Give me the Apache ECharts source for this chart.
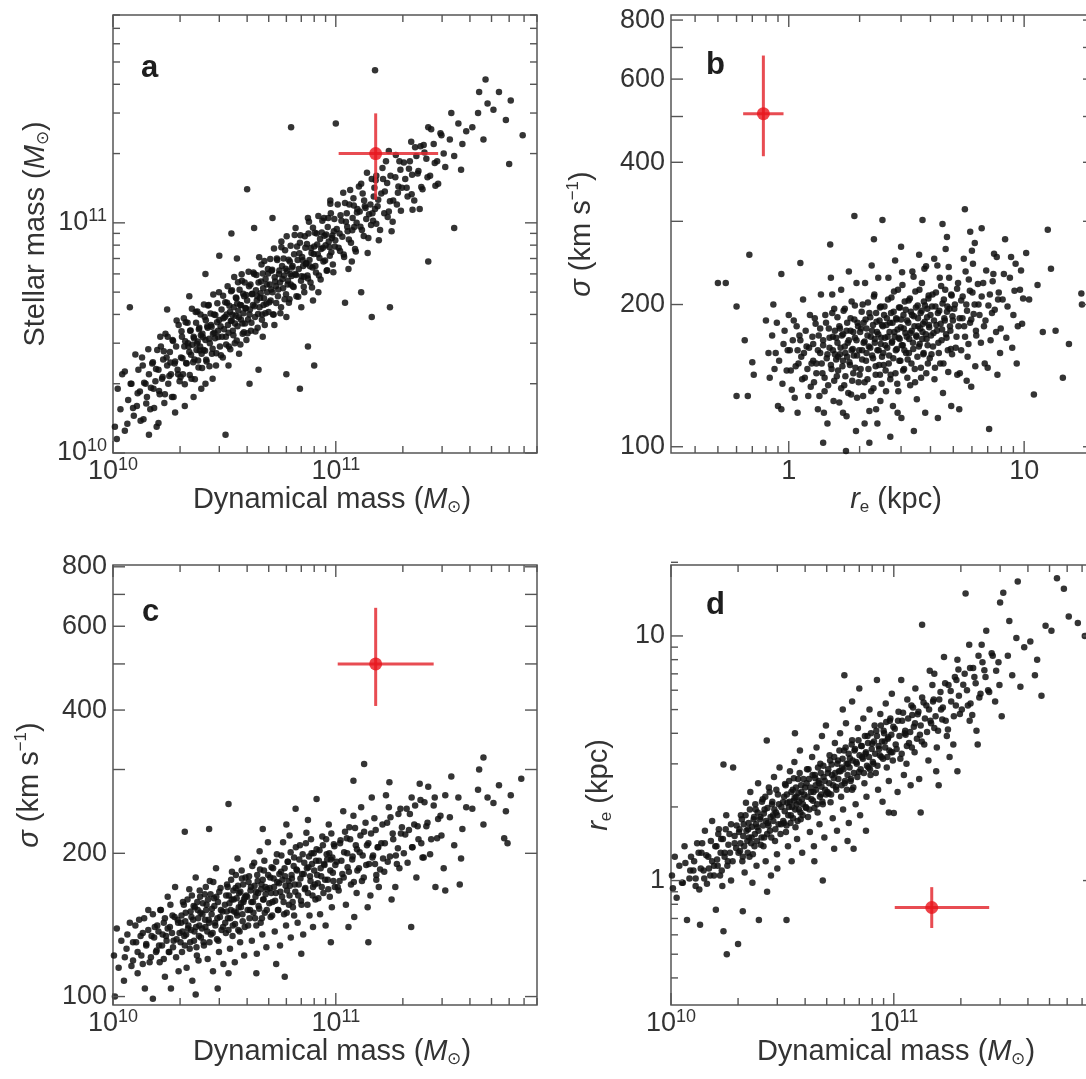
<!DOCTYPE html>
<html><head><meta charset="utf-8">
<script src="https://cdn.jsdelivr.net/npm/echarts@6/dist/echarts.min.js"></script>
<style>html,body{margin:0;padding:0;background:#fff}#c{width:1086px;height:1079px}</style>
</head><body><div id="c"></div>
<script>
// ---------------- DATA ----------------
// Masses in units of 10^10 solar masses, r_e in kpc, sigma in km/s
// Panel a: [dynamical mass, stellar mass]
const ptsA = [[1.02,1.3],[1.04,1.15],[1.05,1.9],[1.08,1.55],[1.1,2.2],[1.13,1.25],[1.17,1.7],[1.2,2.0],[1.24,1.45],
[1.28,1.6],[1.3,2.3],[1.32,1.85],[1.35,2.6],[1.37,1.4],[1.4,2.0],[1.42,1.75],[1.45,2.2],[1.47,1.55],[1.5,2.45],[1.52,1.9],[1.55,2.05],[1.57,1.3],[1.45,1.2],
[1.6,2.3],[1.62,1.8],[1.64,2.9],[1.66,2.1],[1.68,2.55],[1.7,1.65],[1.72,3.3],[1.75,2.4],[1.77,2.0],[1.8,2.75],[1.82,2.2],[1.85,3.1],[1.87,1.75],[1.9,2.5],[1.92,2.9],[1.95,2.3],[1.97,3.6],[1.99,2.05],[1.6,1.35],[1.9,1.5],[1.75,4.2],
[2.02,2.6],[2.04,3.2],[2.06,2.2],[2.09,2.9],[2.12,3.7],[2.14,2.45],[2.17,3.0],[2.2,2.75],[2.22,3.4],[2.25,2.1],[2.27,2.95],[2.3,3.2],[2.32,2.55],[2.35,4.1],[2.37,2.8],[2.4,3.05],[2.42,2.35],[2.44,3.5],[2.46,2.9],[2.48,3.25],[2.49,1.9],[2.5,2.7],[2.1,1.6],[2.3,1.75],[2.2,4.8],
[2.52,3.3],[2.55,2.8],[2.58,3.9],[2.6,3.1],[2.63,2.5],[2.66,3.5],[2.69,4.4],[2.72,3.0],[2.75,3.6],[2.78,2.7],[2.81,3.3],[2.84,4.0],[2.87,3.15],[2.9,2.4],[2.93,3.7],[2.96,3.4],[2.99,5.0],[3.02,2.9],[3.04,3.55],[3.07,4.2],[3.09,3.2],[3.11,2.6],[3.13,3.85],[3.15,3.45],[2.6,2.0],[2.8,2.1],[2.6,6.0],[3.0,7.2],
[3.18,3.9],[3.21,3.2],[3.25,4.5],[3.28,3.6],[3.31,2.9],[3.35,4.1],[3.38,3.75],[3.42,5.1],[3.45,3.4],[3.48,4.3],[3.52,3.0],[3.55,3.95],[3.58,4.7],[3.62,3.55],[3.65,4.15],[3.68,2.7],[3.72,4.4],[3.75,3.8],[3.79,5.6],[3.82,3.3],[3.85,4.05],[3.88,4.8],[3.91,3.65],[3.94,4.25],[3.97,3.1],[3.3,2.4],[3.4,9.0],[3.6,7.0],
[4.0,4.6],[4.04,3.8],[4.08,5.3],[4.12,4.2],[4.16,3.4],[4.2,4.9],[4.25,4.4],[4.3,6.0],[4.34,3.9],[4.38,5.1],[4.42,4.6],[4.46,3.5],[4.5,5.5],[4.55,4.3],[4.6,4.95],[4.64,6.6],[4.68,4.0],[4.72,5.2],[4.76,4.7],[4.8,3.6],[4.84,5.7],[4.88,4.45],[4.92,5.0],[4.96,6.3],[4.99,4.1],[4.7,3.2],[4.1,2.0],[4.5,2.3],[4.3,9.5],
[5.05,5.4],[5.1,4.6],[5.15,6.2],[5.2,5.0],[5.26,4.0],[5.32,5.8],[5.38,5.3],[5.44,7.0],[5.5,4.8],[5.56,6.0],[5.62,5.5],[5.68,4.3],[5.74,6.5],[5.8,5.2],[5.86,5.9],[5.92,7.6],[5.98,4.9],[6.04,6.2],[6.1,5.6],[6.16,4.5],[6.22,6.8],[6.28,5.4],[5.3,3.6],[5.7,8.3],[6.0,3.9],[6.25,6.0],[6.0,2.2],[5.2,10.5],
[6.35,6.4],[6.42,5.3],[6.5,7.3],[6.58,6.0],[6.66,4.8],[6.74,6.9],[6.82,6.3],[6.9,8.2],[6.98,5.6],[7.06,7.1],[7.14,6.5],[7.22,5.0],[7.3,7.8],[7.38,6.7],[7.46,5.9],[7.54,9.0],[7.62,6.9],[7.7,5.5],[7.78,7.4],[7.86,6.4],[6.6,9.5],[7.0,4.3],[7.5,10.5],[7.9,4.6],[6.9,1.9],[7.5,2.9],
[8.0,7.9],[8.1,6.5],[8.2,9.0],[8.3,7.3],[8.4,5.9],[8.5,8.5],[8.6,7.7],[8.7,10.2],[8.8,6.8],[8.9,8.8],[9.0,8.0],[9.1,6.2],[9.2,9.6],[9.3,8.3],[9.4,7.2],[9.5,11.0],[9.6,8.6],[9.7,6.6],[9.8,9.2],[9.9,7.9],[8.35,5.0],[9.45,12.5],[8.0,2.4],
[10.1,9.4],[10.3,7.8],[10.5,10.8],[10.7,8.7],[10.9,7.1],[11.1,10.1],[11.3,9.2],[11.5,12.0],[11.7,8.2],[11.9,10.5],[12.1,9.6],[12.3,7.5],[12.5,11.5],[10.8,13.5],[11.4,6.3],[12.0,12.8],[10.4,9.0],[11.2,11.0],[12.4,10.0],[11.8,6.8],[11,4.5],
[12.8,11.2],[13.1,9.3],[13.4,12.5],[13.7,10.4],[14.0,8.6],[14.3,12.0],[14.6,11.0],[14.9,14.2],[15.2,9.9],[15.5,12.6],[13.0,14.8],[13.9,7.4],[14.5,15.5],[15.0,11.5],[15.6,8.4],[13.5,11.8],[14.8,13.0],[14.5,3.9],[13,5.0],
[16.0,13.4],[16.5,11.0],[17.0,14.9],[17.5,12.4],[18.0,10.1],[18.5,15.8],[19.0,13.5],[19.5,17.0],[16.8,18.5],[17.8,9.2],[18.8,12.0],[19.8,14.2],[16.3,15.5],[17.3,20.5],[17.5,4.3],
[20.5,15.5],[21,13.0],[21.5,18.5],[22,16.2],[22.5,12.5],[23,19.5],[23.5,16.8],[24,21.5],[24.5,14.0],[21.8,22.5],[23.8,11.5],
[25.5,19.0],[26.5,16.0],[27.5,22.0],[28.5,18.5],[29.5,24.5],[30.5,20.0],[26,26],[28,14.5],[31,17.5],
[32.5,23],[34,19.5],[35.5,27],[37,22],[38.5,25],[33,30],[36.5,17],
[41,26],[43.5,30],[46,23],[48,33],[44,37],[51,31],[54,37],[58,28],[61,34],[69,24],[60,18],[47,42],
[15,46],[6.3,26],[10,27],[4.0,14],[3.2,1.2],[1.19,4.3],[34,9.5],[26,6.8],
[1.13,2.26],[1.16,1.34],[1.21,2.0],[1.23,1.57],[1.26,2.68],[1.29,1.82],[1.33,1.38],[1.36,2.4],[1.38,2.02],[1.41,1.64],[1.44,2.82],[1.48,1.92],[1.51,2.48],[1.53,1.57],[1.56,2.32],[1.58,2.8],[1.61,1.86],[1.63,3.2],[1.67,2.14],[1.69,2.77],[1.71,1.8],[1.74,2.6],[1.76,3.2],[1.79,2.16],[1.81,2.47],[1.84,1.75],[1.86,3.07],[1.89,2.45],[1.93,3.76],[1.96,2.2],
[2.01,2.14],[2.03,3.38],[2.05,2.58],[2.08,3.85],[2.1,1.99],[2.11,3.06],[2.13,2.46],[2.16,3.68],[2.18,2.9],[2.21,2.18],[2.23,3.41],[2.24,2.67],[2.26,4.23],[2.29,2.48],[2.31,3.15],[2.33,2.09],[2.36,3.68],[2.38,2.98],[2.39,4.12],[2.41,2.52],[2.43,3.45],[2.45,2.79],[2.47,4.0],[2.51,2.34],[2.53,3.18],[2.56,4.42],[2.59,2.78],[2.61,3.77],[2.62,2.54],[2.65,3.55],[2.67,4.37],[2.7,3.14],[2.71,2.38],[2.74,4.04],[2.77,3.54],[2.8,2.84],[2.82,4.88],[2.85,3.33],[2.88,3.98],[2.91,2.71],[2.94,4.47],[2.97,3.19],[3.0,3.78],[3.05,2.66],[3.12,4.82],
[3.19,4.52],[3.22,2.96],[3.24,4.0],[3.27,5.3],[3.3,3.33],[3.33,4.36],[3.36,2.82],[3.39,5.04],[3.41,3.76],[3.44,3.99],[3.47,3.25],[3.5,5.82],[3.53,3.65],[3.56,4.74],[3.59,3.08],[3.61,4.46],[3.64,5.52],[3.67,3.89],[3.7,5.12],[3.73,2.96],[3.76,4.38],[3.78,5.98],[3.81,3.65],[3.84,4.92],[3.87,3.35],[3.9,5.51],[3.93,4.27],[3.96,4.86],[4.02,3.31],[4.06,6.13],[4.1,4.0],[4.14,5.39],[4.18,3.68],[4.22,4.92],[4.27,6.08],[4.32,4.34],[4.36,3.37],[4.4,5.93],[4.44,4.81],[4.48,4.02],[4.53,7.09],[4.57,4.72],[4.62,5.56],[4.66,3.79],[4.7,6.02],[4.74,4.4],[4.78,6.82],[4.83,4.05],[4.9,5.39],[4.97,6.03],
[5.03,4.52],[5.08,6.97],[5.13,5.13],[5.18,6.26],[5.23,4.0],[5.28,7.73],[5.34,5.56],[5.4,4.49],[5.46,6.9],[5.52,5.13],[5.58,6.21],[5.64,4.05],[5.7,7.83],[5.76,5.7],[5.83,7.0],[5.89,4.66],[5.95,6.32],[6.02,8.75],[6.08,5.39],[6.14,6.91],[6.2,4.66],[6.27,7.95],[6.33,5.87],[6.4,6.49],[6.47,5.26],[6.54,8.85],[6.62,5.93],[6.7,7.9],[6.78,4.78],[6.86,7.37],[6.94,8.84],[7.02,5.86],[7.1,6.87],[7.18,5.27],[7.26,8.74],[7.34,6.62],[7.42,8.09],[7.5,5.73],[7.58,10.1],[7.66,6.47],[7.74,7.77],[7.82,5.24],[7.9,9.52],[7.96,7.33],[7.2,5.83],
[8.05,9.05],[8.15,6.09],[8.25,8.06],[8.35,10.7],[8.45,7.04],[8.55,5.68],[8.65,9.07],[8.75,7.79],[8.85,10.5],[8.95,6.86],[9.05,8.9],[9.15,6.23],[9.25,10.5],[9.35,7.85],[9.45,12.1],[9.55,7.46],[9.65,8.81],[9.75,6.1],[9.85,10.4],[9.95,8.41],[10.2,12.0],[10.45,7.54],[10.6,10.2],[10.85,7.28],[11.0,12.2],[11.25,9.62],[11.45,8.47],[11.6,13.9],[11.85,9.29],[12.05,11.9],[12.2,7.7],[12.45,11.1],[12.7,14.4],[12.9,9.61],[13.2,13.4],[13.35,8.77],[13.6,11.6],[13.8,16.5],[14.1,10.9],[14.4,9.79],
[14.7,10.2],[15.1,15.3],[15.4,11.8],[15.8,9.3],[16.2,17.3],[16.6,13.7],[17.1,10.6],[17.6,16.0],[18.1,12.5],[18.6,19.7],[19.1,14.4],[19.6,11.3],[20.2,18.3],[20.8,14.2],[21.3,17.2],[22.1,11.4],[22.7,21.3],[23.3,16.4],[24.2,14.3],[25.0,20.2],[25.8,15.8],[26.8,25.5],[27.8,18.2],[28.8,14.8],[29.8,24.0],[15.2,16.0],[17.3,11.2],[19.3,18.5],[21.9,13.3],[24.8,21.8]];

// Panel b: [r_e (kpc), sigma (km/s)]
const ptsB = [[0.5,222],[0.54,222],[0.6,128],[0.6,198],
[0.65,168],[0.68,255],[0.7,151],[0.67,128],[0.71,142],
[0.8,185],[0.83,140],[0.86,200],[0.88,158],[0.9,122],[0.93,232],[0.95,165],[0.98,145],
[1.01,160],[1.03,132],[1.05,185],[1.07,148],[1.09,118],[1.11,172],[1.13,155],[1.15,205],[1.17,140],[1.19,163],[1.21,128],[1.23,190],[1.25,150],[1.12,245],
[1.27,165],[1.28,137],[1.3,182],[1.31,150],[1.33,120],[1.34,172],[1.36,158],[1.37,210],[1.39,143],[1.4,168],[1.42,131],[1.43,190],[1.45,154],[1.46,112],[1.48,178],[1.49,162],[1.51,228],[1.52,146],[1.54,171],[1.55,125],[1.56,196],[1.57,157],[1.4,102],[1.5,268],
[1.59,170],[1.6,141],[1.61,188],[1.62,155],[1.64,124],[1.65,178],[1.66,162],[1.67,215],[1.69,148],[1.7,173],[1.72,135],[1.73,196],[1.74,158],[1.76,116],[1.77,183],[1.78,166],[1.8,235],[1.81,151],[1.83,176],[1.84,129],[1.85,203],[1.87,161],[1.88,143],[1.9,186],[1.91,170],[1.93,108],[1.94,222],[1.95,156],[1.97,180],[1.98,137],[1.9,308],[1.75,98],
[2.01,175],[2.02,146],[2.04,193],[2.05,160],[2.07,128],[2.08,183],[2.1,167],[2.11,222],[2.13,152],[2.14,178],[2.16,139],[2.17,202],[2.19,163],[2.2,119],[2.22,188],[2.23,171],[2.25,242],[2.26,156],[2.28,181],[2.29,133],[2.31,210],[2.32,166],[2.34,148],[2.35,192],[2.37,175],[2.38,112],[2.4,228],[2.41,160],[2.43,185],[2.44,142],[2.46,198],[2.47,170],[2.49,155],[2.2,102],[2.3,275],[2.45,125],
[2.51,180],[2.53,149],[2.55,198],[2.57,164],[2.59,131],[2.61,187],[2.63,171],[2.65,228],[2.67,156],[2.69,183],[2.71,142],[2.73,207],[2.75,167],[2.77,122],[2.79,193],[2.81,175],[2.83,248],[2.85,160],[2.87,186],[2.89,136],[2.91,215],[2.93,170],[2.95,152],[2.97,197],[2.99,179],[3.01,115],[3.03,234],[3.05,164],[3.07,190],[3.09,146],[3.11,203],[3.13,174],[3.15,158],[2.5,302],[2.7,105],[3.0,265],
[3.18,185],[3.2,153],[3.23,204],[3.25,169],[3.28,135],[3.3,193],[3.33,176],[3.35,235],[3.38,161],[3.4,189],[3.43,146],[3.45,213],[3.48,172],[3.5,126],[3.53,199],[3.55,180],[3.58,255],[3.6,165],[3.63,192],[3.65,140],[3.68,222],[3.7,175],[3.73,157],[3.75,203],[3.78,184],[3.8,118],[3.83,241],[3.85,169],[3.88,196],[3.9,150],[3.93,209],[3.95,179],[3.7,302],[3.4,108],
[4.0,190],[4.04,157],[4.08,210],[4.12,174],[4.16,139],[4.2,198],[4.24,181],[4.28,242],[4.32,166],[4.36,194],[4.4,150],[4.44,219],[4.48,177],[4.52,130],[4.56,205],[4.6,185],[4.64,262],[4.68,170],[4.72,198],[4.76,144],[4.8,228],[4.84,180],[4.88,161],[4.92,209],[4.96,189],[4.5,296],[4.3,115],[4.7,278],[4.9,122],[4.15,250],
[5.05,196],[5.12,162],[5.19,216],[5.26,180],[5.33,143],[5.4,204],[5.47,187],[5.54,250],[5.61,171],[5.68,200],[5.75,155],[5.82,226],[5.89,183],[5.96,134],[6.03,212],[6.1,191],[6.17,270],[6.24,176],[5.6,318],[5.3,120],[5.9,285],[6.2,148],
[6.4,200],[6.55,166],[6.7,222],[6.85,185],[7.0,147],[7.15,210],[7.3,192],[7.45,256],[7.6,175],[7.75,205],[7.1,109],[6.6,290],[7.9,158],[7.4,232],
[8.1,205],[8.4,170],[8.7,228],[9.0,190],[9.3,150],[9.6,215],[8.3,275],[9.2,244],[9.8,182],
[10.2,257],[10.5,205],[11.0,129],[11.4,220],[12.0,175],[12.6,288],
[13.6,176],[14.6,140],[15.5,165],[17.5,211],[17.6,200],[13.0,238],
[1.1,150],[1.12,168],[1.14,139],[1.16,158],[1.18,176],[1.2,146],[1.22,162],[1.24,134],[1.26,171],[1.27,152],[1.29,187],[1.31,143],[1.33,160],[1.35,128],[1.36,178],[1.38,150],[1.4,164],[1.42,140],[1.44,183],[1.46,157],[1.47,135],[1.49,170],[1.51,149],[1.53,192],[1.54,160],[1.56,138],[1.57,176],[1.59,153],[1.41,118],[1.53,210],
[1.61,166],[1.62,145],[1.64,180],[1.65,157],[1.67,133],[1.68,172],[1.7,152],[1.71,194],[1.73,163],[1.74,141],[1.76,176],[1.77,155],[1.79,130],[1.8,168],[1.82,149],[1.83,187],[1.85,160],[1.86,138],[1.88,175],[1.89,156],[1.91,199],[1.92,147],[1.94,168],[1.95,127],[1.96,183],[1.99,160],[2.0,142],[2.03,178],[2.05,153],[2.06,200],[2.08,166],[2.1,137],[2.12,186],[2.14,158],[2.16,172],[2.18,146],[2.2,192],[2.22,162],[2.24,131],[2.26,176],[2.28,154],[2.3,208],[2.32,169],[2.34,142],[2.36,184],[2.38,160],[2.4,173],[2.42,149],[2.44,197],[2.46,165],[2.48,136],[2.49,181],[1.7,118],[2.1,112],[2.35,120],
[2.52,158],[2.54,190],[2.56,170],[2.58,145],[2.6,181],[2.62,162],[2.64,205],[2.66,150],[2.68,175],[2.7,139],[2.72,192],[2.74,166],[2.76,183],[2.78,154],[2.8,213],[2.82,171],[2.84,143],[2.86,187],[2.88,161],[2.9,177],[2.92,131],[2.94,197],[2.96,169],[2.98,152],[3.0,186],[3.02,164],[3.04,220],[3.06,145],[3.08,178],[3.1,160],[3.14,195],[3.17,171],[3.19,140],[3.22,183],[3.24,158],[3.27,206],[3.29,174],[3.32,150],[3.34,190],[3.37,166],[3.39,229],[3.42,180],[3.44,137],[3.47,197],[3.49,171],[3.52,155],[3.54,187],[3.57,163],[3.59,215],[3.62,178],[3.64,147],[3.67,194],[3.69,169],[3.72,182],[3.74,158],[3.77,238],[3.79,199],[3.82,173],[3.84,143],[3.87,188],[3.89,164],[3.92,206],[3.94,181],[3.97,154],[2.9,118],
[4.02,172],[4.06,198],[4.1,163],[4.14,185],[4.18,147],[4.22,212],[4.26,176],[4.3,192],[4.34,158],[4.38,228],[4.42,182],[4.46,168],[4.5,201],[4.54,150],[4.58,187],[4.62,215],[4.66,173],[4.7,193],[4.74,160],[4.78,240],[4.82,196],[4.86,176],[4.9,210],[4.94,157],[4.98,185],[5.08,200],[5.16,171],[5.24,222],[5.32,187],[5.4,160],[5.48,208],[5.56,180],[5.64,235],[5.72,194],[5.8,165],[5.88,214],[5.96,186],[6.06,244],[6.16,200],[6.26,172],[6.36,221],[6.46,190],[5.2,142],[5.7,138],[6.0,260],
[6.6,208],[6.75,180],[6.9,236],[7.05,199],[7.2,168],[7.35,224],[7.5,195],[7.65,252],[7.8,212],[7.95,178],[8.2,232],[8.5,198],[8.8,252],[9.1,214],[9.4,180],[9.7,236],[6.8,150],[7.7,142],[8.9,162],[9.9,206],
[0.82,158],[0.85,172],[0.87,146],[0.89,183],[0.91,152],[0.94,136],[0.96,176],[0.99,160],[1.0,190],[1.02,145],[1.04,168],[1.06,127],[1.08,180],[1.09,160],[0.93,120]];

// Panel c: [dynamical mass, sigma (km/s)]
const ptsC = [[1.01,122],[1.02,100],[1.04,139],[1.06,115],[1.09,131],[1.12,108],[1.15,126],[1.19,143],[1.23,119],
[1.27,130],[1.29,112],[1.31,145],[1.34,122],[1.36,136],[1.39,104],[1.41,128],[1.44,152],[1.46,118],[1.49,134],[1.51,99],[1.54,140],[1.57,125],
[1.6,137],[1.62,118],[1.64,152],[1.66,128],[1.69,143],[1.71,110],[1.73,134],[1.76,162],[1.78,124],[1.8,140],[1.82,104],[1.85,148],[1.87,131],[1.9,170],[1.92,121],[1.95,145],[1.97,113],[1.99,136],
[2.02,143],[2.04,124],[2.06,158],[2.09,134],[2.12,150],[2.14,115],[2.17,139],[2.2,168],[2.22,130],[2.25,147],[2.27,108],[2.3,155],[2.32,137],[2.35,178],[2.37,127],[2.4,152],[2.42,119],[2.44,141],[2.46,162],[2.48,133],[2.1,222],[2.35,101],
[2.52,149],[2.55,130],[2.58,164],[2.6,140],[2.63,156],[2.66,120],[2.69,145],[2.72,175],[2.75,135],[2.78,153],[2.81,113],[2.84,161],[2.87,143],[2.9,186],[2.93,132],[2.96,158],[2.99,124],[3.02,147],[3.04,169],[3.07,138],[3.1,151],[3.13,117],[2.7,225],[2.95,104],
[3.18,156],[3.21,136],[3.25,172],[3.28,146],[3.31,163],[3.35,126],[3.38,152],[3.42,183],[3.45,141],[3.48,160],[3.52,118],[3.55,169],[3.58,150],[3.62,195],[3.65,138],[3.68,165],[3.72,130],[3.75,154],[3.79,177],[3.82,144],[3.85,158],[3.88,122],[3.91,162],[3.3,254],[3.3,112],
[4.0,162],[4.04,141],[4.08,179],[4.12,152],[4.16,170],[4.2,131],[4.25,158],[4.3,191],[4.34,146],[4.38,166],[4.42,123],[4.46,175],[4.5,155],[4.55,202],[4.6,143],[4.64,172],[4.68,135],[4.72,160],[4.76,184],[4.8,150],[4.84,164],[4.88,127],[4.92,168],[4.96,211],[4.4,112],[4.7,225],
[5.05,169],[5.1,147],[5.15,187],[5.2,158],[5.26,177],[5.32,137],[5.38,165],[5.44,199],[5.5,152],[5.56,173],[5.62,128],[5.68,183],[5.74,162],[5.8,211],[5.86,149],[5.92,179],[5.98,141],[6.04,167],[6.1,192],[6.16,156],[6.22,171],[6.28,133],[5.4,117],[6.0,230],[5.9,110],[6.2,218],
[6.35,177],[6.42,154],[6.5,196],[6.58,166],[6.66,185],[6.74,143],[6.82,172],[6.9,208],[6.98,159],[7.06,181],[7.14,135],[7.22,191],[7.3,169],[7.38,221],[7.46,156],[7.54,187],[7.62,148],[7.7,175],[7.78,200],[7.86,163],[6.6,248],[7.0,123],[7.5,235],[7.9,140],
[8.0,184],[8.1,160],[8.2,204],[8.3,173],[8.4,193],[8.5,149],[8.6,179],[8.7,217],[8.8,165],[8.9,189],[9.0,141],[9.1,199],[9.2,176],[9.3,230],[9.4,162],[9.5,194],[9.6,154],[9.7,182],[9.8,209],[9.9,170],[8.2,260],[9.5,130],
[10.1,192],[10.3,167],[10.5,213],[10.7,181],[10.9,201],[11.1,156],[11.3,187],[11.5,227],[11.7,172],[11.9,197],[12.1,147],[12.3,208],[12.5,184],[10.8,245],[11.4,140],[12.0,240],[10.4,175],[11.2,215],[12.4,165],[12.0,284],
[12.8,201],[13.1,175],[13.4,222],[13.7,189],[14.0,210],[14.3,163],[14.6,196],[14.9,237],[15.2,180],[15.5,206],[13.0,250],[13.9,154],[14.5,262],[15.0,190],[15.6,170],[14.0,130],[13.4,308],
[16.0,210],[16.5,183],[17.0,232],[17.5,197],[18.0,220],[18.5,170],[19.0,205],[19.5,248],[16.8,265],[17.8,160],[18.8,190],[19.8,227],[17.4,282],[16.3,195],
[20.5,219],[21,191],[21.5,242],[22,206],[22.5,230],[23,178],[23.5,214],[24,259],[24.5,196],[21.8,140],[23.8,280],
[25.5,228],[26.5,199],[27.5,252],[28.5,215],[29.5,240],[30.5,186],[26,276],[28,170],[31,265],
[32.5,238],[34,208],[35.5,262],[37,225],[38.5,250],[33,290],[36.5,195],
[41,248],[43.5,272],[46,230],[48,262],[44,300],[51,255],[54,278],[58,245],[61,265],
[68,287],[59,210],[57,215],[46,318],[36,172],[31,167],
[1.13,121],[1.16,135],[1.21,116],[1.23,130],[1.26,141],[1.29,124],[1.33,134],[1.36,117],[1.38,146],[1.41,129],[1.44,138],[1.48,121],[1.51,149],[1.53,133],[1.56,124],[1.58,141],[1.61,128],[1.63,152],[1.67,135],[1.69,120],[1.71,146],[1.74,131],[1.76,139],[1.79,124],[1.81,156],[1.84,136],[1.86,127],[1.89,147],[1.93,132],[1.96,143],
[2.01,130],[2.03,148],[2.05,137],[2.08,156],[2.1,128],[2.11,144],[2.13,135],[2.16,160],[2.18,141],[2.21,126],[2.23,151],[2.24,138],[2.26,163],[2.29,145],[2.31,131],[2.33,154],[2.36,140],[2.38,122],[2.39,158],[2.41,146],[2.43,134],[2.45,167],[2.47,150],[2.51,139],[2.53,157],[2.56,128],[2.59,145],[2.61,170],[2.62,152],[2.65,137],[2.67,160],[2.7,143],[2.71,130],[2.74,164],[2.77,149],[2.8,136],[2.82,174],[2.85,155],[2.88,141],[2.91,162],[2.94,146],[2.97,131],[3.0,166],[3.05,152],[3.12,140],
[3.19,143],[3.22,163],[3.24,151],[3.27,170],[3.3,138],[3.33,157],[3.36,146],[3.39,176],[3.41,160],[3.44,134],[3.47,167],[3.5,151],[3.53,142],[3.56,180],[3.59,161],[3.61,148],[3.64,171],[3.67,154],[3.7,137],[3.73,166],[3.76,157],[3.78,184],[3.81,149],[3.84,172],[3.87,160],[3.9,140],[3.93,178],[3.96,163],[4.02,152],[4.06,174],[4.1,146],[4.14,167],[4.18,158],[4.22,188],[4.27,150],[4.32,171],[4.36,162],[4.4,141],[4.44,180],[4.48,165],[4.53,153],[4.57,185],[4.62,168],[4.66,146],[4.7,176],[4.74,160],[4.78,193],[4.83,170],[4.9,152],[4.97,180],
[5.03,157],[5.08,178],[5.13,165],[5.18,148],[5.23,186],[5.28,170],[5.34,159],[5.4,192],[5.46,174],[5.52,152],[5.58,181],[5.64,166],[5.7,198],[5.76,176],[5.83,158],[5.89,186],[5.95,171],[6.02,150],[6.08,192],[6.14,175],[6.2,163],[6.27,201],[6.33,180],[6.4,158],[6.47,188],[6.54,172],[6.62,206],[6.7,184],[6.78,163],[6.86,194],[6.94,177],[7.02,156],[7.1,199],[7.18,181],[7.26,168],[7.34,210],[7.42,186],[7.5,165],[7.58,197],[7.66,179],[7.74,214],[7.82,190],[7.9,170],[7.96,200],[6.5,148],
[8.05,172],[8.15,193],[8.25,180],[8.35,161],[8.45,203],[8.55,186],[8.65,170],[8.75,208],[8.85,190],[8.95,176],[9.05,214],[9.15,194],[9.25,168],[9.35,200],[9.45,184],[9.55,220],[9.65,196],[9.75,175],[9.85,207],[9.95,189],[10.2,170],[10.45,210],[10.6,193],[10.85,178],[11.0,222],[11.25,200],[11.45,183],[11.6,214],[11.85,194],[12.05,174],[12.2,226],[12.45,204],[12.7,186],[12.9,218],[13.2,198],[13.35,178],[13.6,232],[13.8,208],[14.1,190],[14.4,220],
[14.7,198],[15.1,224],[15.4,206],[15.8,185],[16.2,230],[16.6,210],[17.1,192],[17.6,238],[18.1,214],[18.6,198],[19.1,242],[19.6,220],[20.2,200],[20.8,248],[21.3,224],[22.1,206],[22.7,252],[23.3,228],[24.2,210],[25.0,256],[25.8,232],[26.8,214],[27.8,262],[28.8,236],[29.8,218],[15.2,176],[17.3,250],[19.3,186],[21.9,262],[24.8,196]];

// Panel d: [dynamical mass, r_e (kpc)]
const ptsD = [[1.01,1.05],[1.02,0.93],[1.04,1.25],[1.06,0.85],[1.09,1.15],[1.12,0.98],[1.15,1.38],[1.18,0.69],[1.22,1.1],
[1.27,1.2],[1.29,1.02],[1.31,1.42],[1.34,0.92],[1.35,0.66],[1.37,1.3],[1.4,1.1],[1.42,1.6],[1.45,0.97],[1.47,1.25],[1.5,1.05],[1.53,1.75],[1.56,1.15],
[1.59,0.76],[1.6,1.38],[1.62,1.15],[1.64,1.62],[1.66,1.05],[1.68,1.48],[1.7,0.95],[1.72,2.98],[1.72,0.62],[1.74,1.3],[1.77,1.85],[1.78,0.5],[1.8,1.2],[1.83,1.55],[1.86,1.0],[1.9,2.9],[1.93,1.42],[1.97,1.68],
[2.0,0.55],[2.02,1.58],[2.04,1.32],[2.06,1.85],[2.09,1.2],[2.1,0.75],[2.12,1.7],[2.14,1.08],[2.17,2.08],[2.2,1.45],[2.22,1.62],[2.25,1.25],[2.27,2.3],[2.3,1.5],[2.32,0.98],[2.35,1.78],[2.37,1.38],[2.4,1.95],[2.42,1.15],[2.44,1.65],[2.46,2.5],[2.48,0.69],
[2.52,1.82],[2.55,1.5],[2.58,2.15],[2.6,1.38],[2.63,1.95],[2.66,1.2],[2.69,3.74],[2.72,1.72],[2.75,2.4],[2.78,1.6],[2.81,1.05],[2.84,2.05],[2.87,1.85],[2.9,2.65],[2.93,1.45],[2.96,1.9],[2.99,1.28],[3.02,2.25],[3.04,1.7],[3.07,2.9],[3.1,1.55],[3.13,2.0],[2.7,0.9],[3.0,1.12],
[3.18,2.09],[3.21,1.72],[3.25,2.48],[3.28,1.58],[3.3,0.69],[3.31,2.25],[3.35,1.38],[3.38,2.0],[3.42,2.8],[3.45,1.85],[3.48,1.2],[3.52,2.35],[3.55,2.12],[3.58,3.05],[3.62,1.65],[3.65,2.2],[3.68,1.48],[3.72,2.6],[3.75,1.95],[3.79,3.4],[3.82,1.78],[3.85,2.3],[3.88,1.3],[3.91,2.05],[3.6,4.0],
[4.0,2.4],[4.04,1.98],[4.08,2.85],[4.12,1.82],[4.16,2.6],[4.2,1.58],[4.25,2.3],[4.3,3.2],[4.34,2.12],[4.38,1.38],[4.42,2.7],[4.46,2.45],[4.5,3.5],[4.55,1.9],[4.6,2.55],[4.64,1.7],[4.68,3.0],[4.72,2.25],[4.76,3.9],[4.8,2.05],[4.84,2.65],[4.88,1.5],[4.92,2.35],[4.96,4.3],[4.8,1.0],[4.4,1.2],
[5.05,2.75],[5.1,2.27],[5.15,3.25],[5.2,2.09],[5.26,2.98],[5.32,1.8],[5.38,2.62],[5.44,3.65],[5.5,2.42],[5.56,1.6],[5.62,3.1],[5.68,2.8],[5.74,4.0],[5.8,2.2],[5.86,2.9],[5.92,1.95],[5.98,3.4],[6.04,2.55],[6.1,4.4],[6.16,2.35],[6.22,3.0],[6.28,1.72],[6.0,6.9],[5.4,1.35],[5.9,5.0],[6.2,1.45],
[6.35,3.16],[6.42,2.6],[6.5,3.75],[6.58,2.4],[6.6,1.35],[6.66,3.4],[6.74,2.05],[6.82,3.0],[6.9,4.2],[6.98,2.78],[7.06,1.85],[7.14,3.55],[7.22,3.2],[7.3,4.6],[7.38,2.5],[7.46,3.3],[7.54,2.2],[7.62,3.9],[7.7,2.9],[7.78,5.0],[7.86,2.7],[7.0,6.1],[7.5,1.6],[6.5,5.4],
[8.0,3.63],[8.1,3.0],[8.2,4.3],[8.3,2.75],[8.4,3.9],[8.5,2.35],[8.6,3.45],[8.7,4.8],[8.8,3.2],[8.9,2.1],[9.0,4.1],[9.1,3.7],[9.2,5.3],[9.3,2.9],[9.4,3.8],[9.5,2.55],[9.6,4.5],[9.7,3.35],[9.8,5.8],[9.9,3.1],[8.4,6.6],[9.5,1.9],
[10.1,4.17],[10.3,3.45],[10.5,4.9],[10.7,3.15],[10.9,4.5],[11.1,2.7],[11.3,3.95],[11.5,5.5],[11.7,3.65],[11.9,2.45],[12.1,4.75],[12.3,4.25],[12.5,6.1],[10.0,1.89],[10.8,6.6],[11.4,3.0],[12.0,5.2],[10.4,2.3],[11.2,4.0],[12.4,3.35],
[12.8,4.79],[13.1,3.95],[13.4,5.6],[13.7,3.6],[14.0,5.2],[14.3,3.1],[14.6,4.5],[14.9,6.3],[15.2,4.2],[15.5,2.8],[13.2,1.9],[13.4,11.1],[14.5,7.2],[15.0,5.4],[15.6,3.5],[13.0,2.6],[15.9,2.45],
[16.0,5.5],[16.5,4.55],[17.0,6.4],[17.5,4.15],[18.0,5.95],[18.5,3.6],[19.0,5.2],[19.5,7.3],[16.8,8.2],[17.8,3.2],[18.8,6.8],[19.3,2.8],[16.3,5.0],[19.8,4.8],
[20.5,6.31],[21,14.9],[21.5,5.2],[22,7.4],[22.5,4.75],[23,6.8],[23.5,4.1],[24,8.3],[24.5,5.8],[21.8,9.2],[23.8,3.6],
[25.5,7.24],[26.5,6.0],[27.5,8.5],[28.5,5.4],[29.5,7.8],[30.5,4.7],[26,10.5],[30,13.7],[31,15.0],
[32.5,8.3],[34,6.9],[35.5,9.8],[36,16.7],[37,6.2],[38.5,9.0],[33,11.5],
[41,9.5],[43,6.9],[46,5.7],[48,11],[44,8.0],[51,10.5],[54,17.2],[58,15.6],[61,12],[67,11.3],[72,10],
[1.13,0.98],[1.16,1.18],[1.21,1.02],[1.23,1.25],[1.26,1.1],[1.29,0.95],[1.33,1.3],[1.36,1.12],[1.38,1.42],[1.41,1.02],[1.44,1.27],[1.48,1.12],[1.51,1.45],[1.53,1.2],[1.56,1.05],[1.58,1.38],[1.61,1.22],[1.63,1.55],[1.67,1.3],[1.69,1.1],[1.71,1.48],[1.74,1.25],[1.76,1.62],[1.79,1.15],[1.81,1.4],[1.84,1.3],[1.86,1.7],[1.89,1.2],[1.93,1.52],[1.96,1.36],
[2.01,1.3],[2.03,1.62],[2.05,1.42],[2.08,1.78],[2.1,1.25],[2.11,1.52],[2.13,1.38],[2.16,1.85],[2.18,1.6],[2.21,1.3],[2.23,1.72],[2.24,1.5],[2.26,1.95],[2.29,1.42],[2.31,1.66],[2.33,1.28],[2.36,1.82],[2.38,1.55],[2.39,2.05],[2.41,1.7],[2.43,1.45],[2.45,1.9],[2.47,1.6],[2.51,1.78],[2.53,1.4],[2.56,2.1],[2.59,1.68],[2.61,1.88],[2.62,1.5],[2.65,2.2],[2.67,1.75],[2.7,1.55],[2.71,1.98],[2.74,1.68],[2.77,2.3],[2.8,1.82],[2.82,1.5],[2.85,2.1],[2.88,1.75],[2.91,1.95],[2.94,1.62],[2.97,2.35],[3.0,1.85],[3.05,2.05],[3.12,1.7],
[3.19,1.75],[3.22,2.2],[3.24,1.92],[3.27,2.45],[3.3,1.68],[3.33,2.08],[3.36,1.85],[3.39,2.55],[3.41,2.1],[3.44,1.72],[3.47,2.3],[3.5,2.0],[3.53,1.8],[3.56,2.62],[3.59,2.18],[3.61,1.95],[3.64,2.4],[3.67,2.05],[3.7,1.75],[3.73,2.28],[3.76,2.1],[3.78,2.75],[3.81,1.9],[3.84,2.45],[3.87,2.15],[3.9,1.85],[3.93,2.6],[3.96,2.25],[4.02,2.0],[4.06,2.5],[4.1,2.2],[4.14,2.85],[4.18,1.95],[4.22,2.4],[4.27,2.15],[4.32,2.7],[4.36,2.3],[4.4,1.98],[4.44,2.62],[4.48,2.35],[4.53,2.05],[4.57,2.9],[4.62,2.5],[4.66,2.2],[4.7,2.75],[4.74,2.42],[4.78,2.1],[4.83,2.95],[4.9,2.55],[4.97,2.25],
[5.03,2.3],[5.08,2.85],[5.13,2.5],[5.18,3.1],[5.23,2.25],[5.28,2.7],[5.34,2.45],[5.4,3.2],[5.46,2.75],[5.52,2.35],[5.58,3.0],[5.64,2.6],[5.7,3.4],[5.76,2.8],[5.83,2.45],[5.89,3.15],[5.95,2.85],[6.02,2.5],[6.08,3.5],[6.14,3.0],[6.2,2.7],[6.27,3.3],[6.33,2.9],[6.4,2.55],[6.47,3.6],[6.54,3.1],[6.62,2.75],[6.7,3.45],[6.78,3.05],[6.86,2.65],[6.94,3.75],[7.02,3.25],[7.1,2.85],[7.18,3.55],[7.26,3.15],[7.34,2.75],[7.42,3.9],[7.5,3.35],[7.58,2.95],[7.66,3.65],[7.74,3.2],[7.82,2.85],[7.9,4.0],[7.96,3.45],[6.5,2.35],
[8.05,3.05],[8.15,3.7],[8.25,3.3],[8.35,4.1],[8.45,2.95],[8.55,3.55],[8.65,3.25],[8.75,4.3],[8.85,3.7],[8.95,3.15],[9.05,4.0],[9.15,3.5],[9.25,4.45],[9.35,3.2],[9.45,3.85],[9.55,3.4],[9.65,4.6],[9.75,3.95],[9.85,3.35],[9.95,4.25],[10.2,3.6],[10.45,4.5],[10.6,3.9],[10.85,3.3],[11.0,4.85],[11.25,4.1],[11.45,3.55],[11.6,4.6],[11.85,4.05],[12.05,3.5],[12.2,5.1],[12.45,4.4],[12.7,3.8],[12.9,4.9],[13.2,4.3],[13.35,3.7],[13.6,5.35],[13.8,4.6],[14.1,4.05],[14.4,5.0],
[14.7,4.4],[15.1,5.5],[15.4,4.7],[15.8,4.1],[16.2,5.9],[16.6,5.1],[17.1,4.5],[17.6,6.3],[18.1,5.4],[18.6,4.7],[19.1,6.6],[19.6,5.7],[20.2,5.0],[20.8,7.0],[21.3,6.0],[22.1,5.3],[22.7,7.4],[23.3,6.4],[24.2,5.6],[25.0,7.8],[25.8,6.8],[26.8,5.9],[27.8,8.3],[28.8,7.2],[29.8,6.3],[15.2,7.0],[17.3,3.9],[19.3,8.0],[21.9,4.5],[24.8,9.2]];

// Highlighted object (red point with error bars): centre value and [low, high] ranges
const objA = {x:15.1, y:20.0, xErr:[10.3,28.8], yErr:[12.6,29.9]};
const objB = {x:0.78, y:507, xErr:[0.64,0.95], yErr:[412,673]};
const objC = {x:15.1, y:500, xErr:[10.2,27.5], yErr:[408,656]};
const objD = {x:14.8, y:0.776, xErr:[10.1,26.8], yErr:[0.64,0.94]};

// Axis ranges
const massRange = [1, 80];        // 10^10 .. 8x10^11 M_sun
const sigmaRangeB = [97, 820];
const sigmaRangeC = [96, 807];
const reRangeB = [0.316, 20];
const reRangeD = [0.31, 19.5];

// Tick values and labels
const massMajor = [1, 10];
const massLabels = [['10','10'], ['10','11']];
const massMinor = [2,3,4,5,6,7,8,9,20,30,40,50,60,70,80];
const sigmaMajor = [100,200,300,400,500,600,700,800];
const sigmaLabels = ['100','200','','400','','600','','800'];
const reMajor = [1, 10];
const reLabels = ['1', '10'];
const reMinor = [0.4,0.5,0.6,0.7,0.8,0.9,2,3,4,5,6,7,8,9,20];
const panelLetters = ['a','b','c','d'];

// ---------------- CHART ----------------
const FONT = '"Liberation Sans", Arial, Helvetica, sans-serif';
const TXT = '#333';
const FRAME = '#555';
const GRIDS = [
  {left:113, top:15,  width:424, height:438},
  {left:671, top:15,  width:424, height:438},
  {left:113, top:565, width:424, height:440},
  {left:671, top:565, width:424, height:440}
];

function tickList(axis, majors, labels, minors) {
  const out = majors.map((v, i) => ({ax:axis, v:v, major:true, label:labels ? labels[i] : ''}));
  (minors || []).forEach(v => out.push({ax:axis, v:v, major:false, label:''}));
  return out;
}

function labelEl(lab, x, y, align, va) {
  const text = Array.isArray(lab) ? '{b|' + lab[0] + '}{s|' + lab[1] + '}' : '{b|' + lab + '}';
  return {type:'text', x:x, y:y, silent:true, style:{
    text:text, align:align, verticalAlign:va,
    rich:{
      b:{fontSize:27, fontFamily:FONT, fill:TXT, lineHeight:31},
      s:{fontSize:18, fontFamily:FONT, fill:TXT, lineHeight:17, verticalAlign:'top'}
    }}};
}

function tickSeries(gi, list, xr, yr) {
  return {
    type:'custom', xAxisIndex:gi, yAxisIndex:gi, silent:true, z:10, clip:false,
    data: list.map(t => t.ax === 'x' ? [t.v, yr[0]] : [xr[0], t.v]),
    renderItem: function (params, api) {
      const t = list[params.dataIndex];
      const cs = params.coordSys;
      const p = api.coord([api.value(0), api.value(1)]);
      const len = t.major ? 12 : 7;
      const st = {stroke:FRAME, lineWidth:1.4};
      const ch = [];
      if (t.ax === 'x') {
        const x = p[0], yb = cs.y + cs.height, yt = cs.y;
        ch.push({type:'line', shape:{x1:x, y1:yb, x2:x, y2:yb - len}, style:st});
        ch.push({type:'line', shape:{x1:x, y1:yt, x2:x, y2:yt + len}, style:st});
        if (t.label) ch.push(labelEl(t.label, x, yb + 3, 'center', 'top'));
      } else {
        const y = p[1], xl = cs.x, xr2 = cs.x + cs.width;
        ch.push({type:'line', shape:{x1:xl, y1:y, x2:xl + len, y2:y}, style:st});
        ch.push({type:'line', shape:{x1:xr2, y1:y, x2:xr2 - len, y2:y}, style:st});
        if (t.label) ch.push(labelEl(t.label, xl - 6, y, 'right', 'middle'));
      }
      return {type:'group', children:ch};
    }
  };
}

function errSeries(gi, o) {
  return {
    type:'custom', xAxisIndex:gi, yAxisIndex:gi, silent:true, z:6,
    data:[[o.x, o.y, o.xErr[0], o.xErr[1], o.yErr[0], o.yErr[1]]],
    renderItem: function (params, api) {
      const c = api.coord([api.value(0), api.value(1)]);
      const l = api.coord([api.value(2), api.value(1)]);
      const r = api.coord([api.value(3), api.value(1)]);
      const b = api.coord([api.value(0), api.value(4)]);
      const t = api.coord([api.value(0), api.value(5)]);
      const st = {stroke:'rgba(228,45,52,0.85)', lineWidth:3};
      return {type:'group', children:[
        {type:'line', shape:{x1:l[0], y1:c[1], x2:r[0], y2:c[1]}, style:st},
        {type:'line', shape:{x1:c[0], y1:b[1], x2:c[0], y2:t[1]}, style:st}
      ]};
    }
  };
}

function dotSeries(gi, o) {
  return {type:'scatter', xAxisIndex:gi, yAxisIndex:gi, silent:true, z:7,
    symbol:'circle', symbolSize:13, itemStyle:{color:'#e8141c'}, data:[[o.x, o.y]]};
}

function cloudSeries(gi, pts) {
  return {type:'scatter', xAxisIndex:gi, yAxisIndex:gi, silent:true, z:3,
    symbol:'circle', symbolSize:6.5, itemStyle:{color:'#111', opacity:0.85}, data:pts};
}

const nameRich = {
  i:{fontStyle:'italic', fontSize:29, fontFamily:FONT, color:TXT},
  sub:{fontSize:17, fontFamily:FONT, color:TXT, verticalAlign:'bottom', lineHeight:16},
  sup:{fontSize:17, fontFamily:FONT, color:TXT, verticalAlign:'top', lineHeight:16}
};

function mkAxis(gi, range, name, gap, padLeft) {
  return {gridIndex:gi, type:'log', logBase:10, min:range[0], max:range[1],
    axisLine:{show:false}, axisTick:{show:false}, axisLabel:{show:false},
    splitLine:{show:false}, minorTick:{show:false}, minorSplitLine:{show:false},
    name:name, nameLocation:'middle', nameGap:gap,
    nameTextStyle:{fontSize:29, fontFamily:FONT, color:TXT, lineHeight:33, rich:nameRich,
      padding:[0, 0, 0, padLeft || 0]}};
}

const massName = 'Dynamical mass ({i|M}{sub|⊙})';
const xAxes = [
  mkAxis(0, massRange, massName, 30, 14),
  mkAxis(1, reRangeB, '{i|r}{sub|e} (kpc)', 30, 26),
  mkAxis(2, massRange, massName, 30, 14),
  mkAxis(3, massRange, massName, 30, 26)
];
const yAxes = [
  mkAxis(0, massRange, 'Stellar mass ({i|M}{sub|⊙})', 61),
  mkAxis(1, sigmaRangeB, '{i|σ} (km s{sup|−1})', 73),
  mkAxis(2, sigmaRangeC, '{i|σ} (km s{sup|−1})', 67),
  mkAxis(3, reRangeD, '{i|r}{sub|e} (kpc)', 56)
];

const ticksA = tickList('x', massMajor, massLabels, massMinor).concat(tickList('y', massMajor, massLabels, massMinor));
const ticksB = tickList('x', reMajor, reLabels, reMinor).concat(tickList('y', sigmaMajor, sigmaLabels, []));
const ticksC = tickList('x', massMajor, massLabels, massMinor).concat(tickList('y', sigmaMajor, sigmaLabels, []));
const ticksD = tickList('x', massMajor, massLabels, massMinor).concat(tickList('y', reMajor, reLabels, reMinor));

const letterPos = [[141, 53], [706, 50], [142, 597], [706, 590]];

const option = {
  backgroundColor:'#fff',
  animation:false,
  grid: GRIDS.map(g => Object.assign({show:true, borderColor:FRAME, borderWidth:1.5,
    backgroundColor:'transparent', containLabel:false, outerBoundsMode:'none'}, g)),
  xAxis: xAxes,
  yAxis: yAxes,
  graphic: panelLetters.map((s, i) => ({type:'text', left:letterPos[i][0], top:letterPos[i][1], silent:true,
    style:{text:s, font:'bold 31px ' + FONT, fill:'#1e1e1e'}})),
  series: [
    cloudSeries(0, ptsA), cloudSeries(1, ptsB), cloudSeries(2, ptsC), cloudSeries(3, ptsD),
    errSeries(0, objA), errSeries(1, objB), errSeries(2, objC), errSeries(3, objD),
    dotSeries(0, objA), dotSeries(1, objB), dotSeries(2, objC), dotSeries(3, objD),
    tickSeries(0, ticksA, massRange, massRange),
    tickSeries(1, ticksB, reRangeB, sigmaRangeB),
    tickSeries(2, ticksC, massRange, sigmaRangeC),
    tickSeries(3, ticksD, massRange, reRangeD)
  ]
};

const chart = echarts.init(document.getElementById('c'), null, {renderer:'canvas'});
chart.setOption(option);
</script>
</body></html>
